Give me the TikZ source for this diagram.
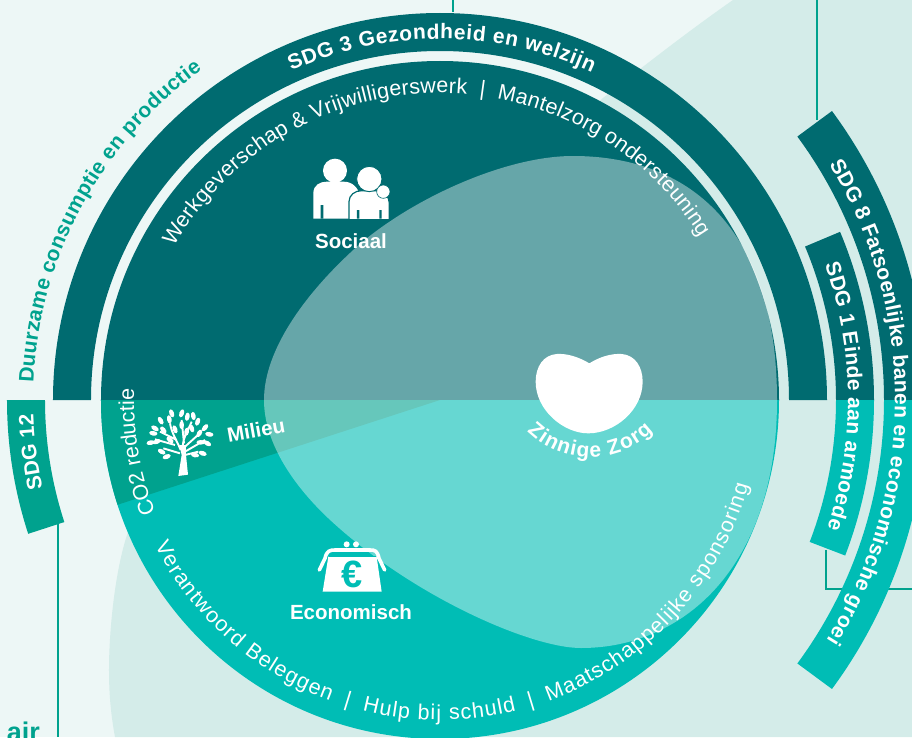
\documentclass[tikz,border=0pt]{standalone}
\usepackage{fontspec}
\setmainfont{Liberation Sans}
\usetikzlibrary{decorations.text}
\definecolor{paleback}{HTML}{EDF7F6}
\definecolor{midback}{HTML}{D4ECE9}
\definecolor{darkteal}{HTML}{006B70}
\definecolor{brightteal}{HTML}{00BDB5}
\definecolor{greenteal}{HTML}{00A28E}
\newcommand{\bandfont}{\bfseries\fontsize{21}{24}\selectfont\color{white}}
\newcommand{\armfont}{\fontsize{21.5}{24}\selectfont\color{white}}
\newcommand{\ringpart}[5]{\fill[#5] (#1:#4) arc[start angle=#1,end angle=#2,radius=#4] -- (#2:#3) arc[start angle=#2,end angle=#1,radius=#3] -- cycle;}
\tikzset{
  arclabel/.style={decorate,decoration={text along path,text align={fit to path},text={#1}}},
  iconlabel/.style={text=white,font=\bfseries\fontsize{20.5}{24}\selectfont,inner sep=0pt},
  linkline/.style={draw=greenteal,line width=2pt},
}

\begin{document}
\begin{tikzpicture}[x=1pt,y=1pt]
  \useasboundingbox (-440,-337) rectangle (472,400);
  \fill[paleback] (-440,-337) rectangle (472,400);
  \fill[midback] (293,400) .. controls (250,370) and (205,335) .. (163,302) -- (-312,-132)
    .. controls (-325,-170) and (-331,-230) .. (-331,-270) .. controls (-331,-295) and (-329,-315) .. (-325,-337)
    -- (472,-337) -- (472,400) -- cycle;

  \coordinate (sdg3end) at (13,388);
  \coordinate (sdg3top) at (13,400);
  \coordinate (sdg8end) at (377,280);
  \coordinate (sdg8top) at (377,400);
  \coordinate (sdg12end) at (-382,-122);
  \coordinate (sdg12low) at (-382,-337);
  \coordinate (sdg1end) at (386,-150);
  \coordinate (sdg1turn) at (386,-189);
  \coordinate (sdg1right) at (472,-189);
  \draw[linkline] (sdg3top) -- (sdg3end);
  \draw[linkline] (sdg8top) -- (sdg8end);
  \draw[linkline] (sdg12end) -- (sdg12low);
  \draw[linkline] (sdg1end) -- (sdg1turn) -- (sdg1right);

  \ringpart{0}{180}{349}{387}{darkteal}
  \ringpart{0}{22.8}{396}{434}{darkteal}
  \ringpart{-21}{0}{396}{434}{brightteal}
  \ringpart{0}{36.4}{444}{487}{darkteal}
  \ringpart{-36.4}{0}{444}{487}{brightteal}
  \ringpart{180}{198}{395}{433}{greenteal}

  \fill[darkteal] (0:339) arc[start angle=0,end angle=180,radius=339] -- cycle;
  \fill[brightteal] (180:339) arc[start angle=180,end angle=360,radius=339] -- cycle;
  \fill[greenteal] (0,0) -- (180:339) arc[start angle=180,end angle=198,radius=339] -- cycle;
  \fill[white,opacity=.4] (-176,0) .. controls (-176,50) and (-135,105) .. (-90,147)
    .. controls (-40,195) and (60,244) .. (133,244) .. controls (255,244) and (337,165) .. (337,0)
    .. controls (337,-165) and (245,-248) .. (141,-248) .. controls (90,-248) and (-30,-195) .. (-112,-118)
    .. controls (-150,-82) and (-176,-40) .. (-176,0) -- cycle;

  \path[arclabel={|\bandfont|SDG 3 Gezondheid en welzijn}] (114.3:361) arc[start angle=114.3,end angle=65.1,radius=361];
  \path[arclabel={|\bandfont|SDG 8 Fatsoenlijke banen en economische groei}] (31.2:455) arc[start angle=31.2,end angle=-31.8,radius=455];
  \path[arclabel={|\bandfont|SDG 1 Einde aan armoede}] (19.4:408) arc[start angle=19.4,end angle=-18.3,radius=408];
  \path[arclabel={|\bandfont|SDG 12}] (192.5:407) arc[start angle=192.5,end angle=182.2,radius=407];
  \path[arclabel={|\bandfont\color{greenteal}|Duurzame consumptie en productie}] (177.6:407) arc[start angle=177.6,end angle=125.8,radius=407];
  \path[arclabel={|\armfont|Werkgeverschap {\&} Vrijwilligerswerk{\ \ }{\textbar}{\ \ }Mantelzorg ondersteuning}] (150:307) arc[start angle=150,end angle=32,radius=307];
  \path[arclabel={|\armfont|Verantwoord Beleggen{\ \ }{\textbar}{\ \ }Hulp bij schuld{\ \ }{\textbar}{\ \ }Maatschappelijke sponsoring}] (207:320) arc[start angle=207,end angle=344.5,radius=320];
  \path[arclabel={|\armfont|CO2 reductie}] (201.6:306) arc[start angle=201.6,end angle=178,radius=306];
  \path[arclabel={|\bandfont|Zinnige Zorg}] ([shift={(225.6:90)}]150,33) arc[start angle=225.6,end angle=314.4,radius=90];

  \node[iconlabel] (sociaal) at (-89,159) {Sociaal};
  \node[iconlabel] (economisch) at (-89,-212) {Economisch};
  \node[iconlabel,rotate=10] (milieu) at (-184,-30) {Milieu};
  \node[anchor=base east,inner sep=0pt,text=greenteal,font=\bfseries\fontsize{27}{30}\selectfont] (fair) at (-400,-341) {air};

  % heart
  \begin{scope}[shift={(60,60)},xscale=1/3,yscale=-1/3]
    \fill[white] (268,70) .. controls (235,50) and (200,40) .. (170,42) .. controls (130,45) and (107,80) .. (107,125)
      .. controls (107,210) and (190,280) .. (265,280) .. controls (345,280) and (428,210) .. (428,125)
      .. controls (428,80) and (405,45) .. (365,42) .. controls (335,40) and (300,50) .. (268,70) -- cycle;
  \end{scope}

  % people
  \begin{scope}[shift={(-160,260)},xscale=1/3,yscale=-1/3]
    \fill[white] (165,92) circle (36);
    \fill[white] (100,236) -- (100,160) .. controls (100,135) and (120,125) .. (140,125) -- (190,125) .. controls (215,125) and (235,140) .. (240,170) -- (240,236) -- cycle;
    \fill[white,draw=darkteal,line width=1.2pt] (207,240) -- (207,185) .. controls (207,165) and (225,152) .. (245,152) -- (290,152) .. controls (312,152) and (328,170) .. (328,190) -- (328,240) -- cycle;
    \fill[white,draw=darkteal,line width=.9pt] (268,117) circle (38);
    \fill[white,draw=darkteal,line width=.6pt] (310,155) circle (20);
    \fill[darkteal] (122,195) rectangle (130,236) (231,210) rectangle (238,236) (298,210) rectangle (305,236);
    \fill[darkteal] (200,236) rectangle (332,242);
  \end{scope}

  % tree
  \begin{scope}[shift={(-310,10)},xscale=1/3,yscale=-1/3]
    \fill[white] (145,258) -- (155,195) -- (148,165) -- (168,165) -- (168,195) -- (174,254) -- cycle;
    \draw[white,line width=1.9pt] (152,180) .. controls (140,150) and (125,130) .. (120,100) (140,150) -- (90,125) (135,165) -- (75,148) (150,190) -- (100,175) (158,170) .. controls (160,140) and (175,120) .. (185,95) (162,160) -- (155,90) (165,170) -- (215,125) (165,185) -- (225,150) (165,195) -- (205,185);
    \foreach \lx/\ly/\la in {125/70/70,155/70/110,172/80/100,190/78/80,203/95/110,118/88/80,92/92/60,75/115/30,70/130/10,62/158/-10,80/155/-20,100/120/50,135/118/70,155/105/90,170/125/100,208/130/120,225/113/130,238/133/10,212/157/0,232/160/30,195/195/10,218/190/20,110/200/-20,95/185/30,185/115/70,120/150/40}
      \fill[white,rotate around={\la:(\lx,\ly)}] (\lx,\ly) ellipse (12.5 and 7);
  \end{scope}

  % purse
  \begin{scope}[shift={(-160,-130)},xscale=1/3,yscale=-1/3]
    \fill[white] (145,80) -- (290,80) -- (305,185) -- (128,185) -- cycle;
    \draw[white,line width=3.6pt,line cap=round] (118,120) -- (135,85) .. controls (140,62) and (150,60) .. (165,60) -- (270,60) .. controls (285,60) and (292,62) .. (297,85) -- (314,120);
    \draw[brightteal,line width=1.1pt] (147,80) -- (288,80);
    \fill[white] (200,43) circle (9) (228,43) circle (9);
    \node[inner sep=0pt,text=brightteal,font=\bfseries\fontsize{38}{40}\selectfont] (euro) at (217,133) {€};
  \end{scope}
\end{tikzpicture}
\end{document}
